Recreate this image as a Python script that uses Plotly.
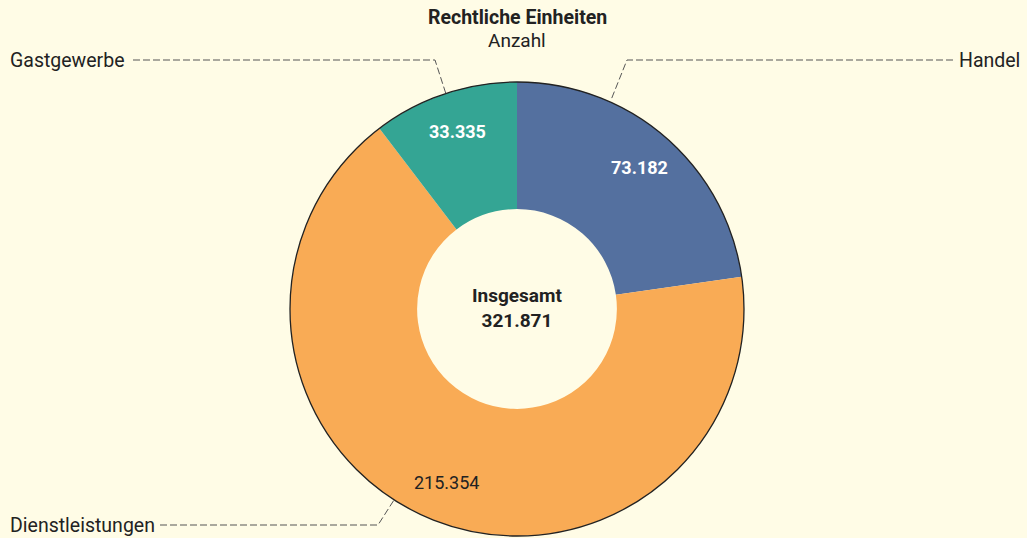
import math
import plotly.graph_objects as go

# ---- data ----
categories = ["Handel", "Dienstleistungen", "Gastgewerbe"]
values = [73182, 215354, 33335]
slice_colors = ["#54709f", "#f9ab55", "#34a594"]
label_font_colors = ["#ffffff", "#222222", "#ffffff"]
label_bold = [True, False, True]
total_label = "Insgesamt"
title = "Rechtliche Einheiten"
subtitle = "Anzahl"

W, H = 1027, 538
BG = "#fffce6"
FONT = "Roboto, Liberation Sans, Arial, sans-serif"

# geometry (pixels)
CX, CY, R = 517, 309, 227
HOLE = 0.44


def px(x):
    return x / W


def py(y):
    return 1 - y / H


def fmt(v):
    return f"{v:,}".replace(",", ".")


def ann(x, y, text, size, color="#222222", xanchor="center"):
    return dict(x=px(x), y=py(y), xref="paper", yref="paper", text=text,
                showarrow=False, xanchor=xanchor, yanchor="middle",
                font=dict(family=FONT, size=size, color=color))


fig = go.Figure()
fig.add_trace(go.Pie(
    labels=categories,
    values=values,
    sort=False,
    direction="clockwise",
    rotation=0,
    hole=HOLE,
    marker=dict(colors=slice_colors, line=dict(width=0)),
    textinfo="none",
    hoverinfo="label+value",
    showlegend=False,
    domain=dict(x=[px(CX - R), px(CX + R)], y=[py(CY + R), py(CY - R)]),
))

# outer outline
fig.add_shape(type="circle", xref="paper", yref="paper",
              x0=px(CX - R), x1=px(CX + R), y0=py(CY + R), y1=py(CY - R),
              line=dict(color="#222222", width=1.3), fillcolor="rgba(0,0,0,0)")

annotations = []
# value labels inside slices, placed at each slice's mid-angle
total = sum(values)
cum = 0
r_lab = 187
for cat, v, fc, b in zip(categories, values, label_font_colors, label_bold):
    mid = (cum + v / 2) / total * 2 * math.pi
    cum += v
    x = CX + r_lab * math.sin(mid)
    y = CY - r_lab * math.cos(mid)
    txt = fmt(v)
    if b:
        txt = f"<b>{txt}</b>"
    annotations.append(ann(x, y, txt, 18, fc))

# centre text
annotations.append(ann(CX, 308, f"<b>{total_label}<br>{fmt(total)}</b>", 19))

# title
annotations.append(ann(CX, 17, f"<b>{title}</b>", 19.5))
annotations.append(ann(CX, 41, subtitle, 19))

# category labels with leader lines
leaders = {
    "Gastgewerbe": dict(tx=8, ty=60, anchor="left", pts=[(133, 60), (435, 60), (446, 94)]),
    "Handel": dict(tx=1022, ty=60, anchor="right", pts=[(953, 60), (627, 60), (611, 100)]),
    "Dienstleistungen": dict(tx=8, ty=525, anchor="left", pts=[(160, 525), (378, 525), (394, 500)]),
}
for cat in categories:
    d = leaders[cat]
    annotations.append(ann(d["tx"], d["ty"], cat, 19.5, xanchor=d["anchor"]))
    path = "M " + " L ".join(f"{px(a)} {py(b)}" for a, b in d["pts"])
    fig.add_shape(type="path", xref="paper", yref="paper", path=path,
                  line=dict(color="#555555", width=1, dash="7px,3px"))

fig.update_layout(
    width=W, height=H,
    margin=dict(l=0, r=0, t=0, b=0),
    paper_bgcolor=BG, plot_bgcolor=BG,
    annotations=annotations,
    separators=",.",
)

fig.write_html(
    "out.html",
    config={"displayModeBar": False},
    post_script="document.body.style.margin='0';document.body.style.overflow='hidden';document.body.style.background='%s';" % BG,
)
